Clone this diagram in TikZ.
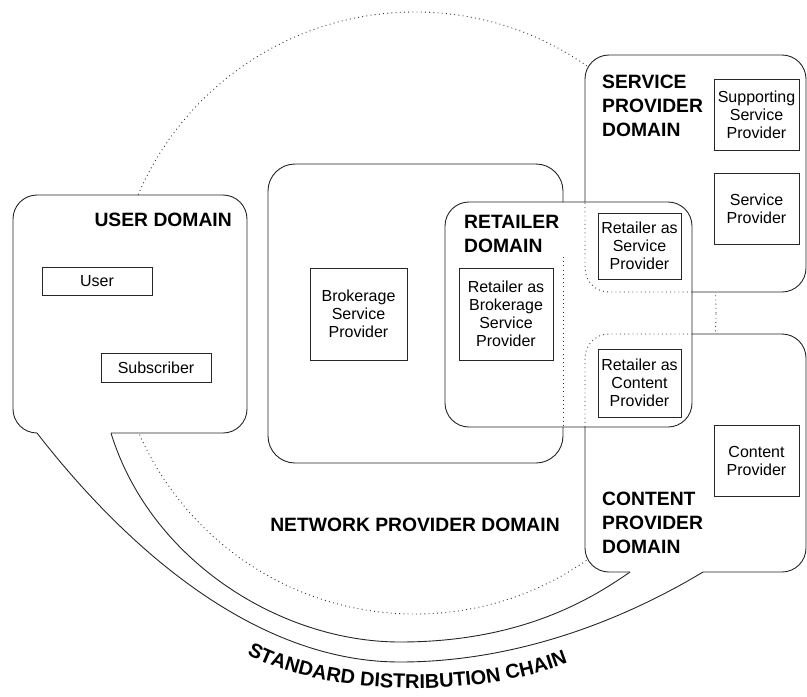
\documentclass[tikz,border=0pt]{standalone}
\usepackage{fontspec}
\setmainfont{Liberation Sans}
\usetikzlibrary{decorations.text}
\begin{document}
\begin{tikzpicture}[x=1pt,y=-1pt,
  dom/.style={draw=black!85, line width=0.9pt},
  dotline/.style={draw=black!80, line width=0.9pt, dash pattern=on 0.9pt off 3.3pt},
  box/.style={draw=black!85, line width=0.8pt, fill=white, align=center, inner sep=1pt, font=\fontsize{16}{18}\selectfont},
  title/.style={inner sep=0pt, align=left, font=\fontsize{19.3}{24}\selectfont\bfseries},
]
\useasboundingbox (0,0) rectangle (807,697);

% network provider domain (dotted circle, mostly hidden)
\draw[dotline] (415,313) circle[radius=301pt];

% white fills of the domains
\fill[white, rounded corners=24pt] (13,195) rectangle (247,433);
\fill[white, rounded corners=27pt] (268,164) rectangle (563,463);
\fill[white, rounded corners=24pt] (585,55) rectangle (806,292);
\fill[white, rounded corners=24pt] (585,334) rectangle (806,572);
\fill[white, rounded corners=24pt] (445,202) rectangle (692,427);

% dotted parts inside the retailer domain
\draw[dotline] (563,257) -- (563,427);
\draw[dotline, rounded corners=24pt] (692,292) -- (585,292) -- (585,202);
\draw[dotline, rounded corners=24pt] (585,427) -- (585,334) -- (692,334);

% named ends of the distribution chain band
\coordinate (uo) at (37,433);
\coordinate (ui) at (111,433);
\coordinate (co) at (703,572);
\coordinate (ci) at (630,572);
\coordinate (bo) at (400,662);
\coordinate (bi) at (400,642);

% user domain
\draw[dom, rounded corners=24pt] (ui) -- (247,433) -- (247,195) -- (13,195) -- (13,433) -- (uo);
% brokerage (network) box
\draw[dom, rounded corners=27pt] (563,202) -- (563,164) -- (268,164) -- (268,463) -- (563,463) -- (563,427);
% service provider domain
\draw[dom, rounded corners=24pt] (585,202) -- (585,55) -- (806,55) -- (806,292) -- (692,292);
% content provider domain
\draw[dom, rounded corners=24pt] (ci) -- (585,572) -- (585,427);
\draw[dom, rounded corners=24pt] (692,334) -- (806,334) -- (806,572) -- (co);
% retailer domain
\draw[dom, rounded corners=24pt] (445,202) rectangle (692,427);

% standard distribution chain band
\draw[dom] (uo) .. controls (120,540) and (250,662) .. (bo) .. controls (530,662) and (640,610) .. (co);
\draw[dom] (ui) .. controls (150,560) and (280,642) .. (bi) .. controls (520,642) and (590,600) .. (ci);

% titles
\node[title, anchor=east] (tuser) at (232,220) {USER DOMAIN};
\node[title, anchor=north west] (tret) at (464,215) {RETAILER\\DOMAIN};
\node[title, anchor=north west] (tserv) at (602,75) {SERVICE\\PROVIDER\\DOMAIN};
\node[title, anchor=north west] (tcont) at (602,492) {CONTENT\\PROVIDER\\DOMAIN};
\node[title] (tnet) at (415,525) {NETWORK PROVIDER DOMAIN};
\path[decorate, decoration={text along path, text align=center,
  text={|\fontsize{20}{20}\selectfont\bfseries|STANDARD DISTRIBUTION CHAIN}}]
  (240,650) .. controls (320,699) and (485,699) .. (575,660);

% role boxes
\node[box, minimum width=110pt, minimum height=28pt] (user) at (97,281) {User};
\node[box, minimum width=110pt, minimum height=29pt] (subs) at (156,367.5) {Subscriber};
\node[box, minimum width=97pt, minimum height=92pt] (bsp) at (358.5,314) {Brokerage\\Service\\Provider};
\node[box, minimum width=94pt, minimum height=92pt] (rbsp) at (506,314) {Retailer as\\Brokerage\\Service\\Provider};
\node[box, minimum width=83pt, minimum height=66pt] (rsp) at (639.5,246) {Retailer as\\Service\\Provider};
\node[box, minimum width=85pt, minimum height=71pt] (ssp) at (756.5,114.5) {Supporting\\Service\\Provider};
\node[box, minimum width=85pt, minimum height=71pt] (sp) at (756.5,208.5) {Service\\Provider};
\node[box, minimum width=83pt, minimum height=68pt] (rcp) at (639.5,383) {Retailer as\\Content\\Provider};
\node[box, minimum width=85pt, minimum height=71pt] (cp) at (756.5,460.5) {Content\\Provider};
\end{tikzpicture}
\end{document}
